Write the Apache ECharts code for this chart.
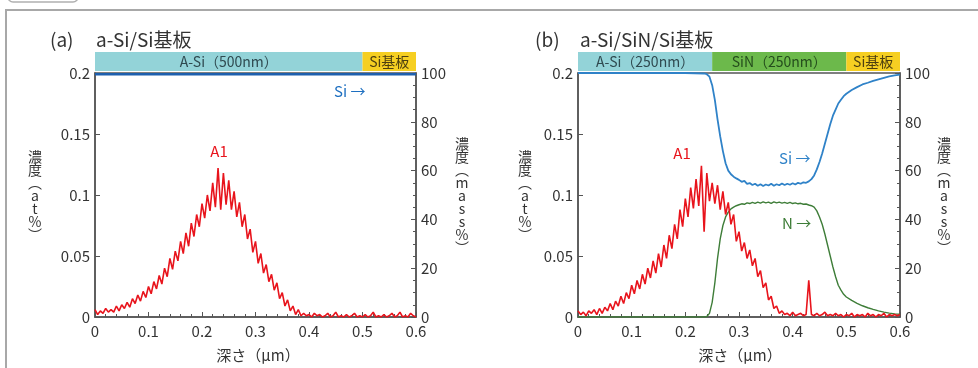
<!DOCTYPE html>
<html>
<head>
<meta charset="utf-8">
<script src="https://cdn.jsdelivr.net/npm/echarts@6/dist/echarts.min.js"></script>
<style>
  html, body { margin: 0; padding: 0; background: #fff; }
  #main { width: 978px; height: 368px; }
</style>
</head>
<body>
<div id="main"></div>
<script>
// depth grid for the Al profiles (um)
const depthAl = [];
for (let i = 0; i <= 120; i++) depthAl.push(+(i * 0.005).toFixed(3));

// (a) a-Si/Si : Al at%
const alA = [
  0.006, 0.002, 0.005, 0.003, 0.007, 0.004, 0.006, 0.004, 0.009, 0.005,
  0.010, 0.007, 0.012, 0.008, 0.015, 0.011, 0.018, 0.013, 0.021, 0.016,
  0.025, 0.019, 0.029, 0.023, 0.034, 0.027, 0.040, 0.033, 0.048, 0.039,
  0.054, 0.046, 0.062, 0.052, 0.069, 0.058, 0.077, 0.066, 0.084, 0.074,
  0.093, 0.081, 0.100, 0.087, 0.110, 0.090, 0.122, 0.088, 0.118, 0.092,
  0.112, 0.088, 0.103, 0.082, 0.094, 0.074, 0.084, 0.064, 0.072, 0.053,
  0.062, 0.044, 0.052, 0.036, 0.043, 0.029, 0.035, 0.022, 0.028, 0.015,
  0.020, 0.009, 0.014, 0.005, 0.009, 0.002, 0.006, 0.001, 0.003, 0.001,
  0.002, 0.000, 0.003, 0.001, 0.002, 0.000, 0.001, 0.003, 0.000, 0.001,
  0.004, 0.000, 0.001, 0.000, 0.002, 0.000, 0.001, 0.003, 0.000, 0.001,
  0.000, 0.002, 0.000, 0.001, 0.004, 0.000, 0.001, 0.000, 0.002, 0.000,
  0.001, 0.003, 0.000, 0.001, 0.004, 0.000, 0.001, 0.000, 0.003, 0.001,
  0.000
];
// (a) Si mass%
const siDepthA = [0, 0.6];
const siA = [99.5, 99.5];

// (b) a-Si/SiN/Si : Al at%
const alB = [
  0.005, 0.002, 0.004, 0.001, 0.005, 0.003, 0.006, 0.002, 0.007, 0.003,
  0.008, 0.005, 0.011, 0.006, 0.013, 0.009, 0.017, 0.011, 0.020, 0.015,
  0.026, 0.019, 0.030, 0.023, 0.035, 0.027, 0.040, 0.032, 0.046, 0.036,
  0.052, 0.041, 0.059, 0.048, 0.067, 0.056, 0.076, 0.064, 0.088, 0.074,
  0.097, 0.082, 0.106, 0.089, 0.113, 0.091, 0.124, 0.070, 0.118, 0.095,
  0.110, 0.093, 0.108, 0.088, 0.103, 0.084, 0.094, 0.076, 0.084, 0.062,
  0.070, 0.054, 0.061, 0.048, 0.055, 0.042, 0.048, 0.033, 0.038, 0.024,
  0.028, 0.014, 0.017, 0.007, 0.009, 0.003, 0.005, 0.002, 0.003, 0.001,
  0.004, 0.001, 0.002, 0.003, 0.001, 0.002, 0.030, 0.002, 0.001, 0.003,
  0.001, 0.002, 0.004, 0.001, 0.002, 0.001, 0.003, 0.001, 0.002, 0.000,
  0.002, 0.001, 0.003, 0.000, 0.002, 0.001, 0.002, 0.000, 0.003, 0.001,
  0.002, 0.000, 0.002, 0.001, 0.003, 0.000, 0.002, 0.001, 0.002, 0.001,
  0.002
];
// (b) Si and N mass%
const depthSN = [
  0, 0.05, 0.10, 0.15, 0.20, 0.235, 0.24, 0.245,
  0.25, 0.255, 0.26, 0.265, 0.27, 0.275, 0.28, 0.285, 0.29, 0.295,
  0.30, 0.305, 0.31, 0.315, 0.32, 0.325, 0.33, 0.335, 0.34, 0.345,
  0.35, 0.355, 0.36, 0.365, 0.37, 0.375, 0.38, 0.385, 0.39, 0.395,
  0.40, 0.405, 0.41, 0.415, 0.42, 0.425, 0.43, 0.435, 0.44, 0.445,
  0.45, 0.455, 0.46, 0.465, 0.47, 0.475, 0.48, 0.485, 0.49, 0.495,
  0.50, 0.51, 0.52, 0.53, 0.54, 0.55, 0.56, 0.57, 0.58, 0.59, 0.60
];
const siB = [
  100, 100, 100, 100, 100, 99.8, 99.5, 98.5,
  95, 89, 81, 74, 68, 63, 60, 58.5, 57.5, 56.8,
  56.2, 55.4, 55.8, 54.6, 54.9, 54.1, 54.6, 53.8, 54.4, 53.7,
  54.3, 53.9, 54.6, 53.8, 54.4, 54.0, 54.7, 54.1, 54.6, 54.2,
  54.8, 54.3, 55.0, 54.6, 55.2, 55.0, 55.6, 56.5, 58, 60.5,
  63.5, 67, 71, 75, 79, 82.5, 85, 87.5, 89, 90.5,
  91.5, 93, 94.2, 95.3, 96, 96.8, 97.4, 98, 98.6, 99, 99.3
];
const nB = [
  0, 0, 0, 0, 0, 0, 0.2, 1.5,
  6, 14, 24, 32, 37.5, 41, 43, 44.3, 45, 45.6,
  46, 46.4, 46.2, 46.8, 46.5, 47, 46.6, 47.1, 46.7, 47.2,
  46.8, 47.1, 46.6, 47.2, 46.8, 47.1, 46.7, 47.0, 46.6, 47.0,
  46.5, 46.8, 46.4, 46.6, 46.2, 46.3, 45.9, 45.6, 45, 43.5,
  41, 38, 34, 29.5, 25, 20.5, 16.5, 13, 11, 9.3,
  8.2, 6.8, 5.6, 4.6, 3.8, 3.1, 2.5, 2.0, 1.6, 1.3, 1.1
];

// layer bands above each plot (thickness in um)
const layersA = ['A-Si（500nm）', 'Si基板'];
const thickA = [0.5, 0.1];
const layersB = ['A-Si（250nm）', 'SiN（250nm）', 'Si基板'];
const thickB = [0.25, 0.25, 0.1];
const layerColors = {
  'A-Si（500nm）': '#93d3d8', 'A-Si（250nm）': '#93d3d8',
  'SiN（250nm）': '#6cb94b', 'Si基板': '#f6cf22'
};
const layerText = {
  'A-Si（500nm）': '#2f4a50', 'A-Si（250nm）': '#2f4a50',
  'SiN（250nm）': '#244d1c', 'Si基板': '#4d3f10'
};

const font = '"Noto Sans CJK JP", "Noto Sans", sans-serif';
const axisColor = '#555';
const red = '#e8141c';

const pairs = (xs, ys) => xs.map((x, i) => [x, ys[i]]);

const chart = echarts.init(document.getElementById('main'));

function depthAxis(grid) {
  return {
    type: 'value', gridIndex: grid, min: 0, max: 0.6, interval: 0.1,
    axisLine: { lineStyle: { color: axisColor, width: 1.5 } },
    axisTick: { inside: true, length: 5, lineStyle: { color: axisColor } },
    minorTick: { show: true, splitNumber: 5, length: 3, lineStyle: { color: axisColor } },
    axisLabel: { color: '#333', fontSize: 15, fontFamily: font, margin: 7 },
    splitLine: { show: false }
  };
}
function atAxis(grid) {
  return {
    type: 'value', gridIndex: grid, min: 0, max: 0.2, interval: 0.05, position: 'left',
    axisLine: { show: true, lineStyle: { color: axisColor, width: 1.5 } },
    axisTick: { show: true, inside: true, length: 5, lineStyle: { color: axisColor } },
    axisLabel: { color: '#333', fontSize: 15, fontFamily: font, margin: 5 },
    splitLine: { show: false }
  };
}
function massAxis(grid) {
  return {
    type: 'value', gridIndex: grid, min: 0, max: 100, interval: 20, position: 'right',
    axisLine: { show: true, lineStyle: { color: axisColor, width: 1.5 } },
    axisTick: { show: true, inside: true, length: 5, lineStyle: { color: axisColor } },
    minorTick: { show: true, splitNumber: 4, length: 3, lineStyle: { color: axisColor } },
    axisLabel: { color: '#333', fontSize: 15, fontFamily: font, margin: 5 },
    splitLine: { show: false }
  };
}
function bandSeries(names, thick, axisIdx) {
  return names.map((n, i) => ({
    type: 'bar', xAxisIndex: axisIdx, yAxisIndex: axisIdx + 2, stack: 'band' + axisIdx,
    barWidth: '100%', silent: true,
    data: [thick[i]],
    itemStyle: { color: layerColors[n] },
    label: {
      show: true, position: 'inside', formatter: n,
      color: layerText[n], fontSize: 14, fontFamily: font
    }
  }));
}

const option = {
  animation: false,
  backgroundColor: '#fff',
  grid: [
    { left: 95, top: 73, width: 321, height: 244, show: true, borderColor: axisColor, borderWidth: 1.5 },
    { left: 578, top: 73, width: 322, height: 244, show: true, borderColor: axisColor, borderWidth: 1.5 },
    { left: 95, top: 52, width: 321, height: 19 },
    { left: 578, top: 52, width: 322, height: 19 }
  ],
  xAxis: [
    depthAxis(0), depthAxis(1),
    { type: 'value', gridIndex: 2, min: 0, max: 0.6, show: false },
    { type: 'value', gridIndex: 3, min: 0, max: 0.6, show: false }
  ],
  yAxis: [
    atAxis(0), massAxis(0), atAxis(1), massAxis(1),
    { type: 'category', gridIndex: 2, data: ['layer'], show: false },
    { type: 'category', gridIndex: 3, data: ['layer'], show: false }
  ],
  series: [
    { type: 'line', name: 'Al', xAxisIndex: 0, yAxisIndex: 0, data: pairs(depthAl, alA),
      showSymbol: false, lineStyle: { color: red, width: 1.6 } },
    { type: 'line', name: 'Si', xAxisIndex: 0, yAxisIndex: 1, data: pairs(siDepthA, siA),
      showSymbol: false, lineStyle: { color: '#1d5fae', width: 2.5 } },
    { type: 'line', name: 'N', xAxisIndex: 1, yAxisIndex: 3, data: pairs(depthSN, nB),
      showSymbol: false, lineStyle: { color: '#3e7d38', width: 1.4 } },
    { type: 'line', name: 'Si', xAxisIndex: 1, yAxisIndex: 3, data: pairs(depthSN, siB),
      showSymbol: false, lineStyle: { color: '#2f82c8', width: 1.8 } },
    { type: 'line', name: 'Al', xAxisIndex: 1, yAxisIndex: 2, data: pairs(depthAl, alB),
      showSymbol: false, lineStyle: { color: red, width: 1.6 } },
    ...bandSeries(layersA, thickA, 2),
    ...bandSeries(layersB, thickB, 3)
  ],
  graphic: [
    // outer frame of the figure
    { type: 'polyline', shape: { points: [[6, 368], [6, 10], [978, 10]] },
      style: { stroke: '#a8a8a8', lineWidth: 2, fill: null } },
    { type: 'rect', shape: { x: 8, y: -12, width: 70, height: 14, r: 5 },
      style: { stroke: '#b0b0b0', lineWidth: 1.5, fill: '#fff' } },
    // panel titles
    { type: 'text', x: 50, y: 40, style: { text: '(a)', fontSize: 19, verticalAlign: 'middle', fontFamily: font, fill: '#333' } },
    { type: 'text', x: 96, y: 40, style: { text: 'a-Si/Si基板', fontSize: 19, verticalAlign: 'middle', fontFamily: font, fill: '#333' } },
    { type: 'text', x: 535, y: 40, style: { text: '(b)', fontSize: 19, verticalAlign: 'middle', fontFamily: font, fill: '#333' } },
    { type: 'text', x: 580, y: 40, style: { text: 'a-Si/SiN/Si基板', fontSize: 19, verticalAlign: 'middle', fontFamily: font, fill: '#333' } },
    // vertical axis names
    { type: 'text', x: 35, y: 196, style: { text: '濃\n度\n︵\na\nt\n%\n︶', fontSize: 14, lineHeight: 13, align: 'center', verticalAlign: 'middle', fontFamily: font, fill: '#333' } },
    { type: 'text', x: 462, y: 196, style: { text: '濃\n度\n︵\nm\na\ns\ns\n%\n︶', fontSize: 14, lineHeight: 13, align: 'center', verticalAlign: 'middle', fontFamily: font, fill: '#333' } },
    { type: 'text', x: 525, y: 196, style: { text: '濃\n度\n︵\na\nt\n%\n︶', fontSize: 14, lineHeight: 13, align: 'center', verticalAlign: 'middle', fontFamily: font, fill: '#333' } },
    { type: 'text', x: 944, y: 196, style: { text: '濃\n度\n︵\nm\na\ns\ns\n%\n︶', fontSize: 14, lineHeight: 13, align: 'center', verticalAlign: 'middle', fontFamily: font, fill: '#333' } },
    // x-axis names
    { type: 'text', x: 258, y: 355, style: { text: '深さ（μm）', fontSize: 15, align: 'center', verticalAlign: 'middle', fontFamily: font, fill: '#333' } },
    { type: 'text', x: 740, y: 355, style: { text: '深さ（μm）', fontSize: 15, align: 'center', verticalAlign: 'middle', fontFamily: font, fill: '#333' } },
    // series labels
    { type: 'text', x: 219, y: 151, style: { text: 'A1', fontSize: 15, align: 'center', verticalAlign: 'middle', fontFamily: font, fill: red } },
    { type: 'text', x: 682, y: 153, style: { text: 'A1', fontSize: 15, align: 'center', verticalAlign: 'middle', fontFamily: font, fill: red } },
    { type: 'text', x: 334, y: 91, style: { text: 'Si →', fontSize: 15, verticalAlign: 'middle', fontFamily: font, fill: '#1d6fc0' } },
    { type: 'text', x: 779, y: 158, style: { text: 'Si →', fontSize: 15, verticalAlign: 'middle', fontFamily: font, fill: '#2f82c8' } },
    { type: 'text', x: 782, y: 223, style: { text: 'N →', fontSize: 15, verticalAlign: 'middle', fontFamily: font, fill: '#3e7d38' } }
  ]
};

chart.setOption(option);
</script>
</body>
</html>
